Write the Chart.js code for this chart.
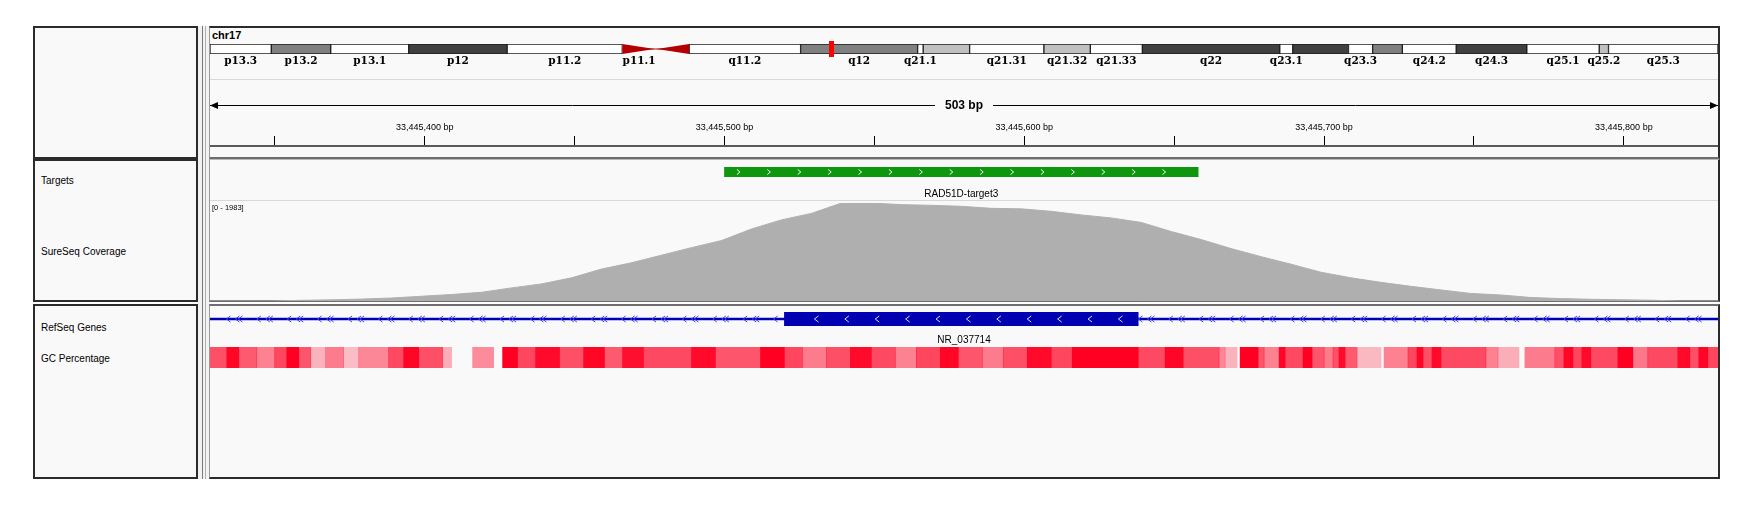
<!DOCTYPE html>
<html>
<head>
<meta charset="utf-8">
<title>chr17 RAD51D-target3</title>
<script src="https://cdn.jsdelivr.net/npm/chart.js@4.4.1/dist/chart.umd.min.js"></script>
<style>
html, body { margin: 0; padding: 0; background: #fff; }
body { position: relative; width: 1754px; height: 511px; overflow: hidden; font-family: 'Liberation Sans', Arial, sans-serif; }
.box { position: absolute; box-sizing: border-box; background: #f9f9f9; }
.name { border: 2px solid #2b2b2b; }
.data { border-right: 2px solid #2b2b2b; border-left: 1px solid #9a9a9a; }
.vline { position: absolute; width: 1px; background: #7a7a7a; }
.hline { position: absolute; height: 1px; background: #d8d8dc; }
.lbl { position: absolute; left: 41px; font-size: 10px; line-height: 12px; color: #000; white-space: nowrap; }
canvas { position: absolute; }
</style>
</head>
<body>
<div class="box" style="left:198px;top:26px;width:12px;height:453px;background:#f2f2f2"></div>
<div class="vline" style="left:202px;top:26px;height:453px"></div>
<div class="vline" style="left:205px;top:26px;height:453px;background:#b0b0b0"></div>

<div class="box name" style="left:33px;top:26px;width:165px;height:133px"></div>
<div class="box name" style="left:33px;top:159px;width:165px;height:143px"></div>
<div class="box name" style="left:33px;top:304px;width:165px;height:175px"></div>

<div class="box data" style="left:209px;top:26px;width:1511px;height:133px;border-top:2px solid #2b2b2b;border-bottom:2px solid #6e6e6e"></div>
<div class="box data" style="left:209px;top:159px;width:1511px;height:143px;border-top:1px solid #b8b8b8;border-bottom:2px solid #6e6e6e"></div>
<div class="box data" style="left:209px;top:304px;width:1511px;height:175px;border-top:2px solid #6e6e6e;border-bottom:2px solid #2b2b2b"></div>

<div class="hline" style="left:210px;top:79px;width:1508px"></div>
<div class="hline" style="left:210px;top:200px;width:1508px"></div>

<div style="position:absolute;left:212px;top:29px;font:bold 11px 'Liberation Sans',Arial,sans-serif">chr17</div>
<div class="lbl" style="top:174.5px">Targets</div>
<div class="lbl" style="top:245.5px">SureSeq Coverage</div>
<div class="lbl" style="top:321.5px">RefSeq Genes</div>
<div class="lbl" style="top:353px">GC Percentage</div>

<canvas id="ideo" width="1508" height="34" style="left:210px;top:40px"></canvas>
<canvas id="ruler" width="1508" height="78" style="left:210px;top:80px"></canvas>
<canvas id="targets" width="1508" height="40" style="left:210px;top:160px"></canvas>
<canvas id="coverage" width="1508" height="100" style="left:210px;top:201px"></canvas>
<canvas id="genes" width="1508" height="42" style="left:210px;top:305px"></canvas>
<canvas id="gc" width="1508" height="21" style="left:210px;top:347px"></canvas>

<script>
'use strict'

// visible locus (503 bp window)
const viewStart = 33445328.4;
const viewEnd = 33445831.4;
const chromName = 'chr17';
const chromLength = 81195210;

// chr17 cytobands (hg19)
const bandNames = ['p13.3', 'p13.2', 'p13.1', 'p12', 'p11.2', 'p11.1', 'q11.1', 'q11.2', 'q12', 'q21.1', 'q21.2', 'q21.31', 'q21.32', 'q21.33', 'q22', 'q23.1', 'q23.2', 'q23.3', 'q24.1', 'q24.2', 'q24.3', 'q25.1', 'q25.2', 'q25.3'];
const bandStarts = [0, 3300000, 6500000, 10700000, 16000000, 22200000, 24000000, 25800000, 31800000, 38100000, 38400000, 40900000, 44900000, 47400000, 50200000, 57600000, 58300000, 61300000, 62600000, 64200000, 67100000, 70900000, 74800000, 75300000];
const bandEnds = [3300000, 6500000, 10700000, 16000000, 22200000, 24000000, 25800000, 31800000, 38100000, 38400000, 40900000, 44900000, 47400000, 50200000, 57600000, 58300000, 61300000, 62600000, 64200000, 67100000, 70900000, 74800000, 75300000, 81195210];
const bandStains = ['gneg', 'gpos50', 'gneg', 'gpos75', 'gneg', 'acen', 'acen', 'gneg', 'gpos50', 'gneg', 'gpos25', 'gneg', 'gpos25', 'gneg', 'gpos75', 'gneg', 'gpos75', 'gneg', 'gpos50', 'gneg', 'gpos75', 'gneg', 'gpos25', 'gneg'];
const hiddenBandLabels = ['q11.1', 'q21.2', 'q23.2', 'q24.1'];

// ruler ticks, labelled every 100 bp
const rulerTicks = [33445350, 33445400, 33445450, 33445500, 33445550, 33445600, 33445650, 33445700, 33445750, 33445800];
const rulerLabelStep = 100;

// Targets track
const targetNames = ['RAD51D-target3'];
const targetStarts = [33445500];
const targetEnds = [33445658];

// SureSeq Coverage track
const covPos = [33445328, 33445339, 33445349, 33445359, 33445369, 33445379, 33445389, 33445399, 33445409, 33445419, 33445429, 33445439, 33445449, 33445459, 33445469, 33445479, 33445489, 33445499, 33445509, 33445519, 33445529, 33445539, 33445549, 33445559, 33445569, 33445579, 33445589, 33445599, 33445609, 33445619, 33445629, 33445639, 33445649, 33445659, 33445669, 33445679, 33445689, 33445699, 33445709, 33445719, 33445729, 33445739, 33445749, 33445759, 33445769, 33445779, 33445789, 33445799, 33445809, 33445819, 33445832];
const covDepth = [0, 0, 0, 14, 24, 39, 61, 96, 132, 177, 265, 346, 469, 646, 774, 927, 1080, 1223, 1457, 1641, 1773, 1981, 1981, 1950, 1936, 1916, 1875, 1865, 1814, 1742, 1681, 1590, 1406, 1243, 1060, 897, 744, 581, 469, 377, 296, 224, 153, 122, 71, 49, 35, 26, 16, 0, 0];
const covMax = 1983;

// RefSeq Genes track
const geneNames = ['NR_037714'];
const geneTxStarts = [33427950];
const geneTxEnds = [33446631];
const exonStarts = [33445520];
const exonEnds = [33445638];

// GC Percentage track (window start, percent GC)
const gcStarts = [33445328, 33445334, 33445338, 33445344, 33445350, 33445354, 33445358, 33445362, 33445367, 33445373, 33445378, 33445388, 33445393, 33445398, 33445406, 33445409, 33445416, 33445423, 33445426, 33445431, 33445437, 33445445, 33445453, 33445460, 33445466, 33445473, 33445489, 33445497, 33445512, 33445520, 33445526, 33445534, 33445542, 33445549, 33445557, 33445564, 33445572, 33445578, 33445586, 33445593, 33445601, 33445609, 33445616, 33445638, 33445647, 33445653, 33445665, 33445667, 33445671, 33445672, 33445678, 33445680, 33445685, 33445687, 33445693, 33445696, 33445700, 33445703, 33445705, 33445707, 33445711, 33445719, 33445720, 33445728, 33445731, 33445733, 33445736, 33445739, 33445754, 33445758, 33445765, 33445767, 33445777, 33445780, 33445783, 33445786, 33445789, 33445798, 33445803, 33445808, 33445818, 33445822, 33445825, 33445828];
const gcPct = [64, 79, 62, 54, 66, 80, 63, 44, 55, 42, 53, 65, 79, 64, 45, 28, 52, 28, 80, 66, 78, 64, 79, 62, 77, 65, 78, 63, 80, 66, 55, 64, 78, 65, 54, 66, 79, 63, 55, 64, 78, 66, 80, 65, 79, 64, 53, 44, 28, 80, 63, 54, 79, 65, 80, 63, 55, 64, 78, 62, 43, 28, 54, 66, 79, 64, 78, 65, 54, 45, 28, 55, 64, 79, 66, 78, 65, 80, 56, 65, 78, 64, 79, 66];

Chart.defaults.font.family = "'Liberation Sans', Arial, sans-serif";
Chart.defaults.color = '#000';

const stainColors = {
	gneg: '#ffffff',
	gpos25: '#c0c0c0',
	gpos50: '#808080',
	gpos75: '#404040',
	gpos100: '#000000',
};

function gcColor(pct) {
	let a = Math.max(0, Math.min(1, (pct - 30) / 50));
	return 'rgba(255, 0, 34, ' + a.toFixed(2) + ')';
}

let noLegend = {
	legend: { display: false },
	tooltip: { enabled: false },
};

function chevron(ctx, x, y, dir, half, w) {
	ctx.beginPath();
	ctx.moveTo(x - dir * w, y - half);
	ctx.lineTo(x + dir * w, y);
	ctx.lineTo(x - dir * w, y + half);
	ctx.stroke();
}

// centromere triangles and current-view marker
const ideoPlugin = {
	id: 'ideoExtras',
	afterDatasetsDraw(chart) {
		const { ctx, chartArea: a, scales: { x } } = chart;
		const mid = (a.top + a.bottom) / 2;
		ctx.save();
		ctx.fillStyle = '#b40000';
		ctx.strokeStyle = '#b40000';
		bandStains.forEach((st, i) => {
			if (st !== 'acen') return;
			const x0 = x.getPixelForValue(bandStarts[i]);
			const x1 = x.getPixelForValue(bandEnds[i]);
			const isP = bandNames[i][0] === 'p';
			const wide = isP ? x0 : x1;
			const tip = isP ? x1 - 1 : x0 + 1;
			ctx.beginPath();
			ctx.moveTo(wide, a.top);
			ctx.lineTo(tip, mid);
			ctx.lineTo(wide, a.bottom);
			ctx.closePath();
			ctx.fill();
			ctx.beginPath();
			ctx.moveTo(x0, mid);
			ctx.lineTo(x1, mid);
			ctx.stroke();
		});
		const vx = x.getPixelForValue((viewStart + viewEnd) / 2);
		ctx.fillStyle = '#ff0000';
		ctx.fillRect(Math.round(vx) - 2, a.top - 3, 5, a.bottom - a.top + 6);
		ctx.restore();
	},
};

// span arrow with its length in bp
const rulerPlugin = {
	id: 'rulerSpan',
	afterDraw(chart) {
		const { ctx, scales: { x } } = chart;
		const y = 25.5;
		const l = x.getPixelForValue(viewStart);
		const r = x.getPixelForValue(viewEnd);
		const cx = (l + r) / 2;
		const txt = Math.round(viewEnd - viewStart) + ' bp';
		ctx.save();
		ctx.font = "bold 12px 'Liberation Sans', Arial, sans-serif";
		const w = ctx.measureText(txt).width;
		ctx.strokeStyle = '#000';
		ctx.lineWidth = 1;
		ctx.beginPath();
		ctx.moveTo(l, y);
		ctx.lineTo(cx - w / 2 - 10, y);
		ctx.moveTo(cx + w / 2 + 10, y);
		ctx.lineTo(r, y);
		ctx.stroke();
		ctx.fillStyle = '#000';
		ctx.beginPath();
		ctx.moveTo(l, y);
		ctx.lineTo(l + 8, y - 3.5);
		ctx.lineTo(l + 8, y + 3.5);
		ctx.closePath();
		ctx.fill();
		ctx.beginPath();
		ctx.moveTo(r, y);
		ctx.lineTo(r - 8, y - 3.5);
		ctx.lineTo(r - 8, y + 3.5);
		ctx.closePath();
		ctx.fill();
		ctx.textAlign = 'center';
		ctx.textBaseline = 'middle';
		ctx.fillText(txt, cx, y);
		ctx.restore();
	},
};

const targetPlugin = {
	id: 'targetExtras',
	afterDatasetsDraw(chart) {
		const { ctx, chartArea: a, scales: { x } } = chart;
		const cy = (a.top + a.bottom) / 2;
		ctx.save();
		ctx.lineWidth = 1;
		targetStarts.forEach((s, i) => {
			const x0 = x.getPixelForValue(s);
			const x1 = x.getPixelForValue(targetEnds[i]);
			ctx.strokeStyle = '#ffffff';
			for (let px = x0 + 14; px < x1 - 4; px += 30.4) chevron(ctx, px, cy, 1, 2.5, 1.5);
			ctx.fillStyle = '#000';
			ctx.font = "10px 'Liberation Sans', Arial, sans-serif";
			ctx.textAlign = 'center';
			ctx.textBaseline = 'middle';
			ctx.fillText(targetNames[i], (x0 + x1) / 2, a.bottom + 17);
		});
		ctx.restore();
	},
};

const covPlugin = {
	id: 'covRange',
	afterDraw(chart) {
		const { ctx, chartArea: a } = chart;
		ctx.save();
		ctx.fillStyle = '#000';
		ctx.font = "7.5px 'Liberation Sans', Arial, sans-serif";
		ctx.textBaseline = 'middle';
		ctx.fillText('[0 - ' + covMax + ']', a.left + 2, 6.5);
		ctx.restore();
	},
};

const genePlugin = {
	id: 'geneExtras',
	afterDatasetsDraw(chart) {
		const { ctx, chartArea: a, scales: { x } } = chart;
		const cy = (a.top + a.bottom) / 2;
		const exonPx = exonStarts.map((s, i) => [x.getPixelForValue(s), x.getPixelForValue(exonEnds[i])]);
		const inExon = (px) => exonPx.some(e => px > e[0] - 3 && px < e[1] + 2);
		ctx.save();
		ctx.lineWidth = 1;
		// strand arrows on the intron line
		ctx.strokeStyle = '#3c3cff';
		for (let px = a.left + 18.4; px < a.right; px += 30.4) {
			[0, 9, 12].forEach(d => {
				if (!inExon(px + d) && px + d < a.right - 2) chevron(ctx, px + d, cy, -1, 3, 2);
			});
		}
		// strand arrows inside the exon
		ctx.strokeStyle = '#dcdcff';
		exonPx.forEach(e => {
			for (let px = e[0] + 32; px < e[1] - 8; px += 30.4) chevron(ctx, px, cy, -1, 3, 2);
		});
		ctx.fillStyle = '#000';
		ctx.font = "10px 'Liberation Sans', Arial, sans-serif";
		ctx.textAlign = 'center';
		ctx.textBaseline = 'middle';
		geneNames.forEach((n, i) => {
			const s = Math.max(geneTxStarts[i], viewStart);
			const e = Math.min(geneTxEnds[i], viewEnd);
			ctx.fillText(n, x.getPixelForValue((s + e) / 2), a.bottom + 14.5);
		});
		ctx.restore();
	},
};

let solidBands = bandNames.map((n, i) => i).filter(i => bandStains[i] !== 'acen');
let labeledBands = bandNames.map((n, i) => i).filter(i => !hiddenBandLabels.includes(bandNames[i]));

let ideoChart = new Chart(document.getElementById('ideo'), {
	type: 'bar',
	data: {
		labels: [chromName],
		datasets: [{
			data: solidBands.map(i => ({ x: [bandStarts[i], bandEnds[i]], y: chromName })),
			backgroundColor: solidBands.map(i => stainColors[bandStains[i]]),
			borderColor: '#1e1e1e',
			borderWidth: 1,
			borderSkipped: false,
			barPercentage: 1,
			categoryPercentage: 1,
		}],
	},
	options: {
		indexAxis: 'y',
		responsive: false,
		animation: false,
		layout: { padding: { top: 4, left: 0, right: 0, bottom: 0 } },
		plugins: noLegend,
		scales: {
			x: {
				type: 'linear',
				min: 0,
				max: chromLength,
				bounds: 'data',
				position: 'bottom',
				grid: { display: false, drawTicks: false },
				border: { display: false },
				afterBuildTicks: s => { s.ticks = labeledBands.map(i => ({ value: (bandStarts[i] + bandEnds[i]) / 2 })); },
				afterFit: s => { s.height = 20; },
				ticks: {
					autoSkip: false,
					maxRotation: 0,
					padding: 1,
					color: '#000',
					font: { family: "'DejaVu Serif', serif", weight: 'bold', size: 10.5 },
					callback: (v, i) => bandNames[labeledBands[i]],
				},
			},
			y: { display: false },
		},
	},
	plugins: [ideoPlugin],
});

let rulerChart = new Chart(document.getElementById('ruler'), {
	type: 'scatter',
	data: { datasets: [{ data: [] }] },
	options: {
		responsive: false,
		animation: false,
		layout: { padding: 0 },
		plugins: noLegend,
		scales: {
			x: {
				type: 'linear',
				position: 'top',
				min: viewStart,
				max: viewEnd,
				bounds: 'data',
				afterBuildTicks: s => { s.ticks = rulerTicks.map(v => ({ value: v })); },
				afterFit: s => { s.height = 66; },
				grid: { drawOnChartArea: false, drawTicks: true, tickLength: 10, color: '#000', lineWidth: 1 },
				border: { display: true, color: '#5a5a5a', width: 2 },
				ticks: {
					autoSkip: false,
					maxRotation: 0,
					padding: 3,
					color: '#000',
					font: { size: 9 },
					callback: v => (v % rulerLabelStep === 0 ? v.toLocaleString('en-US') + ' bp' : ''),
				},
			},
			y: { display: false, min: 0, max: 1 },
		},
	},
	plugins: [rulerPlugin],
});

let targetChart = new Chart(document.getElementById('targets'), {
	type: 'bar',
	data: {
		labels: ['targets'],
		datasets: [{
			data: targetStarts.map((s, i) => ({ x: [s, targetEnds[i]], y: 'targets' })),
			backgroundColor: '#0e960e',
			barPercentage: 1,
			categoryPercentage: 1,
		}],
	},
	options: {
		indexAxis: 'y',
		responsive: false,
		animation: false,
		layout: { padding: { top: 7, bottom: 23, left: 0, right: 0 } },
		plugins: noLegend,
		scales: {
			x: { type: 'linear', min: viewStart, max: viewEnd, bounds: 'data', display: false },
			y: { display: false },
		},
	},
	plugins: [targetPlugin],
});

let coverageChart = new Chart(document.getElementById('coverage'), {
	type: 'line',
	data: {
		datasets: [{
			data: covPos.map((p, i) => ({ x: p, y: covDepth[i] })),
			borderColor: '#afafaf',
			backgroundColor: '#afafaf',
			borderWidth: 1,
			pointRadius: 0,
			fill: 'origin',
			tension: 0,
		}],
	},
	options: {
		responsive: false,
		animation: false,
		layout: { padding: { top: 2, bottom: 0, left: 0, right: 0 } },
		plugins: noLegend,
		scales: {
			x: { type: 'linear', min: viewStart, max: viewEnd, bounds: 'data', display: false },
			y: { min: 0, max: covMax, display: false },
		},
	},
	plugins: [covPlugin],
});

let geneChart = new Chart(document.getElementById('genes'), {
	type: 'bar',
	data: {
		labels: ['genes'],
		datasets: [
			{
				data: exonStarts.map((s, i) => ({ x: [s, exonEnds[i]], y: 'genes' })),
				backgroundColor: '#0000b2',
				barPercentage: 1,
				categoryPercentage: 1,
				grouped: false,
			},
			{
				data: geneTxStarts.map((s, i) => ({ x: [s, geneTxEnds[i]], y: 'genes' })),
				backgroundColor: '#0000b2',
				barThickness: 2,
				grouped: false,
			},
		],
	},
	options: {
		indexAxis: 'y',
		responsive: false,
		animation: false,
		layout: { padding: { top: 7, bottom: 21, left: 0, right: 0 } },
		plugins: noLegend,
		scales: {
			x: { type: 'linear', min: viewStart, max: viewEnd, bounds: 'data', display: false },
			y: { display: false },
		},
	},
	plugins: [genePlugin],
});

let gcChart = new Chart(document.getElementById('gc'), {
	type: 'bar',
	data: {
		labels: ['gc'],
		datasets: [{
			data: gcStarts.map((s, i) => ({ x: [s, i + 1 < gcStarts.length ? gcStarts[i + 1] : viewEnd], y: 'gc' })),
			backgroundColor: gcPct.map(gcColor),
			borderWidth: 0,
			barPercentage: 1,
			categoryPercentage: 1,
		}],
	},
	options: {
		indexAxis: 'y',
		responsive: false,
		animation: false,
		layout: { padding: 0 },
		plugins: noLegend,
		scales: {
			x: { type: 'linear', min: viewStart, max: viewEnd, bounds: 'data', display: false },
			y: { display: false },
		},
	},
});
</script>
</body>
</html>
